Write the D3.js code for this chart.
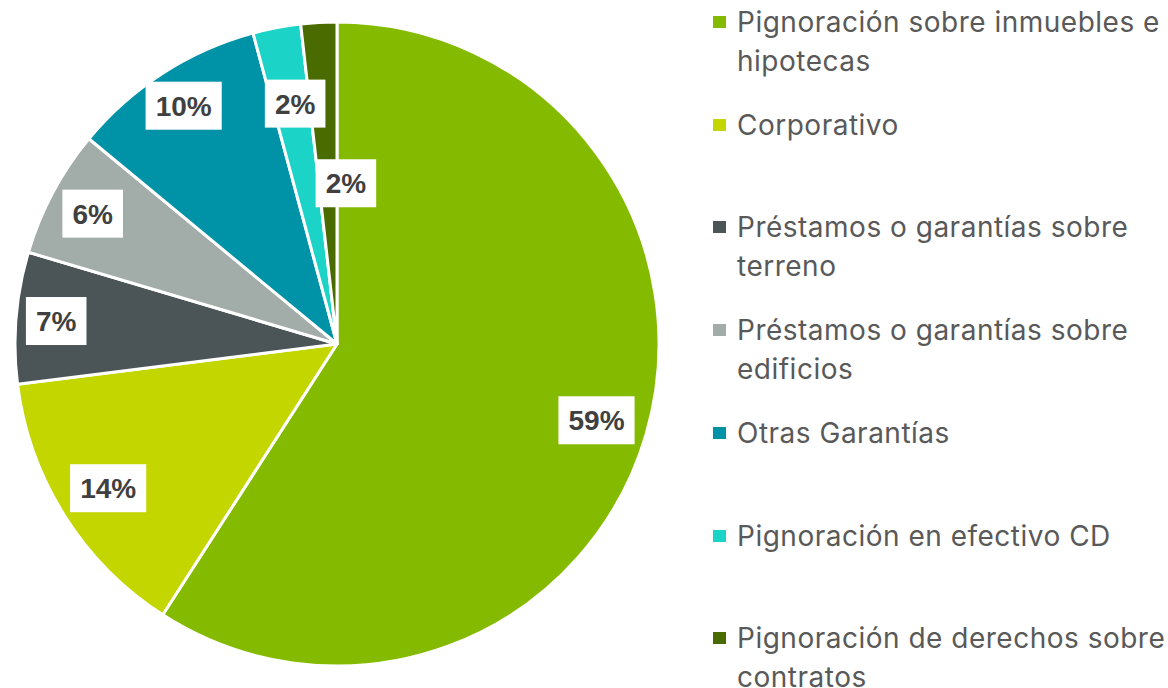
<!DOCTYPE html>
<html>
<head>
<meta charset="utf-8">
<script src="https://cdn.jsdelivr.net/npm/d3@7"></script>
<style>
  body { margin: 0; background: #fff; }
  svg { display: block; }
</style>
</head>
<body>
<div id="chart"></div>
<script>
// categories, in the order they go round the pie (clockwise from 12 o'clock)
const categories = [
    "Pignoración sobre inmuebles e hipotecas",
    "Corporativo",
    "Préstamos o garantías sobre terreno",
    "Préstamos o garantías sobre edificios",
    "Otras Garantías",
    "Pignoración en efectivo CD",
    "Pignoración de derechos sobre contratos"
];
// share of each category, percent
const shares = [59.1, 13.9, 6.6, 6.4, 9.8, 2.4, 1.8];
// legend text as it wraps in the picture
const legendLines = [
    ["Pignoración sobre inmuebles e", "hipotecas"],
    ["Corporativo"],
    ["Préstamos o garantías sobre", "terreno"],
    ["Préstamos o garantías sobre", "edificios"],
    ["Otras Garantías"],
    ["Pignoración en efectivo CD"],
    ["Pignoración de derechos sobre", "contratos"]
];
const colors = ["#84bb00", "#c4d600", "#4b5558", "#a2aca8", "#0093a7", "#1bd3c6", "#4a6b00"];

const width = 1168, height = 688;
const cx = 337, cy = 344, radius = 322;

const svg = d3.select("#chart").append("svg")
    .attr("width", width)
    .attr("height", height);

const pie = d3.pie().sort(null).value(d => d.value);
const arcs = pie(categories.map((c, i) => ({name: c, value: shares[i], i: i})));

const arc = d3.arc().innerRadius(0).outerRadius(radius);

const g = svg.append("g").attr("transform", "translate(" + cx + "," + cy + ")");

g.selectAll("path")
    .data(arcs)
    .enter()
    .append("path")
    .attr("d", arc)
    .attr("fill", d => colors[d.data.i])
    .attr("stroke", "#fff")
    .attr("stroke-width", 3)
    .attr("stroke-linejoin", "round");

// data labels - best fit pushes the two small ones inward
const labelR = [0.84, 0.84, 0.875, 0.86, 0.88, 0.76, 0.50];
const labelDx = [0, 0, 0, 0, 0, 4, 18];

const labels = g.selectAll("g.lbl")
    .data(arcs)
    .enter()
    .append("g")
    .attr("class", "lbl")
    .attr("transform", function(d) {
        const a = (d.startAngle + d.endAngle) / 2;
        const r = radius * labelR[d.data.i];
        return "translate(" + (Math.sin(a) * r + labelDx[d.data.i]) + "," + (-Math.cos(a) * r) + ")";
    });

labels.append("rect").attr("fill", "#fff");

labels.append("text")
    .attr("text-anchor", "middle")
    .attr("dy", "0.36em")
    .style("font-family", "'Liberation Sans', Arial, sans-serif")
    .style("font-weight", "bold")
    .style("font-size", "28px")
    .attr("fill", "#404040")
    .text(d => Math.round(d.data.value) + "%");

labels.each(function() {
    const t = d3.select(this).select("text").node().getBBox();
    d3.select(this).select("rect")
        .attr("x", -t.width / 2 - 10)
        .attr("y", -24)
        .attr("width", t.width + 20)
        .attr("height", 48);
});

// legend
const legendTop = [22, 125, 227, 330, 433, 536, 638];
const lineH = 38.5;

const legend = svg.append("g")
    .selectAll("g")
    .data(legendLines)
    .enter()
    .append("g")
    .attr("transform", (d, i) => "translate(713," + legendTop[i] + ")");

legend.append("rect")
    .attr("x", 0)
    .attr("y", -6)
    .attr("width", 13)
    .attr("height", 12)
    .attr("fill", (d, i) => colors[i]);

legend.append("text")
    .attr("x", 24)
    .attr("y", 0)
    .style("font-family", "Inter, sans-serif")
    .style("font-size", "28px")
    .style("letter-spacing", "0.5px")
    .attr("fill", "#595959")
    .selectAll("tspan")
    .data(d => d)
    .enter()
    .append("tspan")
    .attr("x", 24)
    .attr("dy", (d, j) => j === 0 ? "0.36em" : lineH + "px")
    .text(d => d);
</script>
</body>
</html>
